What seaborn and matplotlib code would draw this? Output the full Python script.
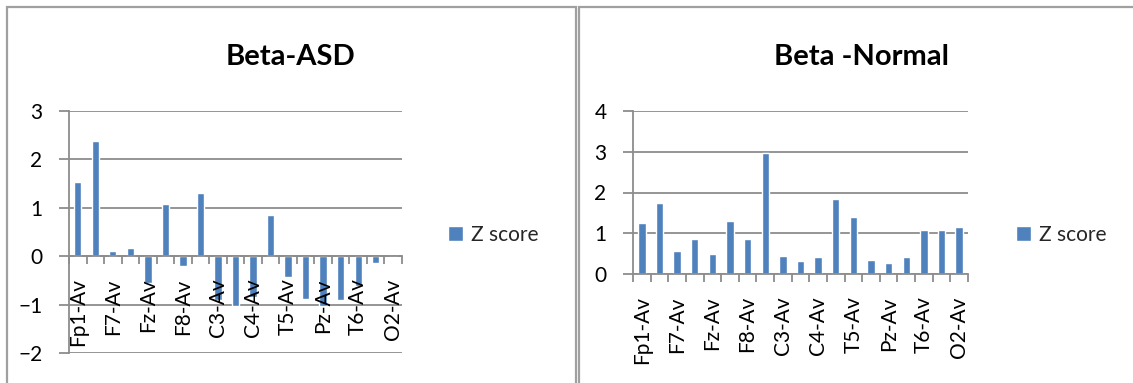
import matplotlib
matplotlib.use("Agg")
import matplotlib.pyplot as plt
from matplotlib.patches import Rectangle
from matplotlib.ticker import FixedLocator
import numpy as np
import pandas as pd
import seaborn as sns

# EEG channels (average reference)
channels = ["Fp1-Av", "Fp2-Av", "F7-Av", "F3-Av", "Fz-Av", "F4-Av", "F8-Av",
            "T3-Av", "C3-Av", "Cz-Av", "C4-Av", "T4-Av", "T5-Av", "P3-Av",
            "Pz-Av", "P4-Av", "T6-Av", "O1-Av", "O2-Av"]

# Beta-band z scores
asd_z = [1.54, 2.37, 0.10, 0.16, -0.55, 1.08, -0.21, 1.31, -0.91, -1.03,
         -0.85, 0.86, -0.43, -0.89, -1.03, -0.91, -0.61, -0.14, 0.04]
normal_z = [1.26, 1.75, 0.56, 0.86, 0.49, 1.30, 0.85, 2.96, 0.43, 0.33,
            0.42, 1.83, 1.39, 0.35, 0.27, 0.42, 1.08, 1.07, 1.16]

titles = ["Beta-ASD", "Beta -Normal"]
legend_label = "Z score"

sns.set_theme(style="white")
plt.rcParams["font.family"] = ["Lato", "DejaVu Sans"]

BAR = "#4F81BD"
GRID = "#8C8C8C"
W, H = 1133, 383

fig = plt.figure(figsize=(W / 100, H / 100), dpi=100)


def fx(px):
    return px / W


def fy(py):
    return 1 - py / H


# panel frames
for x0, x1 in [(7, 576), (579, 1145)]:
    fig.patches.append(Rectangle((fx(x0), fy(400)), fx(x1 - x0), fy(7) - fy(400),
                                 transform=fig.transFigure, fill=False,
                                 edgecolor="#A0A0A0", linewidth=1.6))

specs = [
    dict(vals=asd_z, left=69, right=402, top=111, bottom=353, ylim=(-2, 3),
         title_x=291, leg_x=448),
    dict(vals=normal_z, left=633, right=968, top=111, bottom=274, ylim=(0, 4),
         title_x=861, leg_x=1016),
]

for spec, title in zip(specs, titles):
    ax = fig.add_axes([fx(spec["left"]), fy(spec["bottom"]),
                       fx(spec["right"] - spec["left"]),
                       fy(spec["top"]) - fy(spec["bottom"])])
    df = pd.DataFrame({"channel": channels, "z": spec["vals"]})
    sns.barplot(data=df, x="channel", y="z", color=BAR, width=0.42,
                saturation=1, ax=ax, label=legend_label)
    ax.set_xlim(-0.5, len(channels) - 0.5)
    ax.set_ylim(*spec["ylim"])
    ax.set_xlabel("")
    ax.set_ylabel("")
    ax.set_facecolor("none")

    lo, hi = spec["ylim"]
    ax.set_yticks(np.arange(lo, hi + 1))
    ax.yaxis.grid(True, color=GRID, linewidth=1.3)
    ax.set_axisbelow(True)
    # category labels sit above the bars
    ax.xaxis.set_zorder(3)
    for s in ["top", "right"]:
        ax.spines[s].set_visible(False)
    ax.spines["left"].set_color(GRID)
    ax.spines["left"].set_linewidth(1.3)
    ax.spines["bottom"].set_color(GRID)
    ax.spines["bottom"].set_linewidth(1.3)
    ax.spines["bottom"].set_position(("data", 0))

    pos = np.arange(0, len(channels), 2)
    ax.xaxis.set_major_locator(FixedLocator(pos))
    ax.set_xticklabels([channels[i] for i in pos], rotation=90,
                       fontsize=15, color="black")
    ax.xaxis.set_minor_locator(FixedLocator(np.arange(-0.5, len(channels), 1)))
    ax.tick_params(axis="x", which="major", length=0, pad=16)
    ax.tick_params(axis="x", which="minor", bottom=True, length=6,
                   width=1.3, color=GRID, direction="out")
    ax.tick_params(axis="y", left=True, length=7, width=1.3, color=GRID,
                   pad=12, labelsize=15, labelcolor="black")

    ax.legend(loc="center left", bbox_to_anchor=(fx(spec["leg_x"]), fy(235)),
              bbox_transform=fig.transFigure, frameon=False, fontsize=15,
              handlelength=0.7, handleheight=0.7, handletextpad=0.4,
              borderpad=0, borderaxespad=0)

    fig.text(fx(spec["title_x"]), fy(57), title, ha="center", va="center",
             fontsize=21, fontweight="bold", color="black")

fig.savefig("out.png", dpi=100)
